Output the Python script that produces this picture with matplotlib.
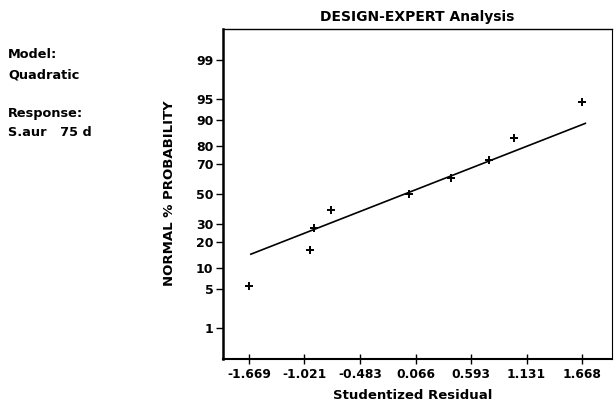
from statistics import NormalDist
import numpy as np
import matplotlib
matplotlib.use("Agg")
import matplotlib.pyplot as plt

# studentized residuals (axis units) and normal % probability of each run
resid = [-1.666, -1.060, -1.017, -0.843, -0.070, 0.356, 0.739, 0.989, 1.671]
prob = [5.6, 16.7, 27.8, 38.9, 50.0, 61.1, 72.2, 83.3, 94.4]

# fitted reference line
line_x = [-1.65, 1.70]
line_p = [14.8, 89.0]

ytick_p = [1, 5, 10, 20, 30, 50, 70, 80, 90, 95, 99]
ytick_lbl = ["1", "5", "10", "20", "30", "50", "70", "80", "90", "95", "99"]
xtick_lbl = ["-1.669", "-1.021", "-0.483", "0.066", "0.593", "1.131", "1.668"]

nd = NormalDist()
z = lambda p: [nd.inv_cdf(v / 100.0) for v in p]

plt.rcParams["font.family"] = "DejaVu Sans"
plt.rcParams["font.weight"] = "bold"

fig = plt.figure(figsize=(6.14, 4.04), dpi=100)
ax = fig.add_axes([0.3632, 0.1114, 0.6335, 0.8168])

ax.plot(line_x, z(line_p), color="black", lw=1.2)
ax.plot(resid, z(prob), "+", color="black", ms=6, mew=1.4)

ax.set_xlim(-1.929, 1.967)
ax.set_ylim(-2.865, 2.865)

ax.set_yticks(z(ytick_p))
ax.set_yticklabels(ytick_lbl)
ax.set_xticks(np.linspace(-1.669, 1.668, len(xtick_lbl)))
ax.set_xticklabels(xtick_lbl)
ax.tick_params(axis="y", direction="out", length=5, width=1, pad=2, labelsize=9)
ax.tick_params(axis="x", direction="inout", length=7, width=1, pad=3, labelsize=8.8)

ax.spines["left"].set_linewidth(1.8)
ax.spines["bottom"].set_linewidth(1.5)
ax.spines["top"].set_linewidth(1.0)
ax.spines["right"].set_linewidth(0.8)

ax.set_ylabel("NORMAL % PROBABILITY", fontsize=9.5, fontweight="bold")
ax.yaxis.set_label_coords(-0.12, 0.503)
ax.set_xlabel("Studentized Residual", fontsize=9.5, fontweight="bold")
ax.xaxis.set_label_coords(0.488, -0.092)
fig.text(0.68, 0.958, "DESIGN-EXPERT Analysis", ha="center", va="center",
         fontsize=10, fontweight="bold")

# model info on the left
fig.text(0.013, 0.864, "Model:", fontsize=9.3, fontweight="bold", va="center")
fig.text(0.013, 0.814, "Quadratic", fontsize=9.3, fontweight="bold", va="center")
fig.text(0.013, 0.720, "Response:", fontsize=9.3, fontweight="bold", va="center")
fig.text(0.013, 0.671, "S.aur   75 d", fontsize=9.3, fontweight="bold", va="center")

fig.savefig("out.png", dpi=100)
